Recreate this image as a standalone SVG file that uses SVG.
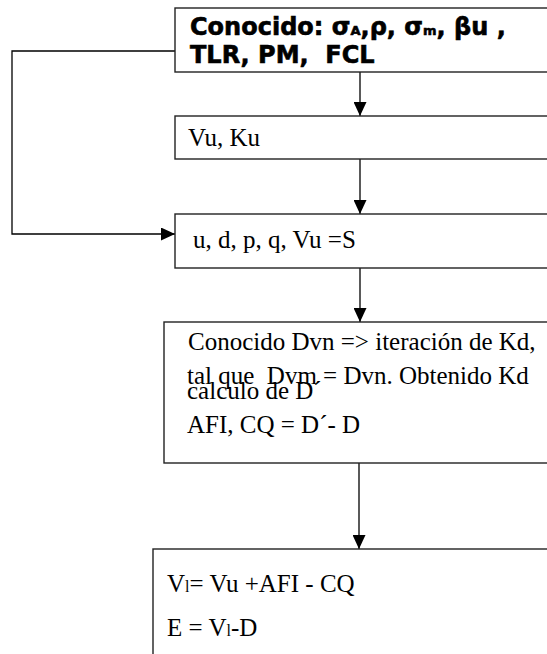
<svg xmlns="http://www.w3.org/2000/svg" width="547" height="654" viewBox="0 0 547 654">
<style>
.box{fill:#fff;stroke:#222;stroke-width:1.4}
.con{fill:none;stroke:#000;stroke-width:1.3}
.t{font-family:"Liberation Serif","Times New Roman",serif;font-size:25px;fill:#000}
.h{font-family:"DejaVu Sans","Liberation Sans",sans-serif;font-weight:bold;font-size:24px;fill:#000;stroke:#000;stroke-width:0.6}
</style>
<defs>
<marker id="arr" markerUnits="userSpaceOnUse" markerWidth="14" markerHeight="13" viewBox="0 0 14 13" refX="14" refY="6.5" orient="auto">
<path d="M0,0 L14,6.5 L0,13 z" fill="#000"/>
</marker>
</defs>
<g id="connectors">
<line class="con" x1="360" y1="72" x2="360" y2="116" marker-end="url(#arr)"/>
<line class="con" x1="360" y1="159" x2="360" y2="214" marker-end="url(#arr)"/>
<line class="con" x1="360" y1="268" x2="360" y2="322" marker-end="url(#arr)"/>
<line class="con" x1="359" y1="463" x2="359" y2="549" marker-end="url(#arr)"/>
<polyline class="con" points="175,51 12,51 12,234 175,234" marker-end="url(#arr)"/>
</g>
<g id="known">
<rect class="box" x="175" y="8" width="400" height="64"/>
<text class="h" x="190" y="35">Conocido: σ<tspan font-size="13">A</tspan>,ρ, σ<tspan font-size="13">m</tspan>, βu ,</text>
<text class="h" x="190" y="63" xml:space="preserve">TLR, PM,  FCL</text>
</g>
<g id="vuku">
<rect class="box" x="175" y="116" width="400" height="43"/>
<text class="t" x="188" y="146">Vu, Ku</text>
</g>
<g id="udpq">
<rect class="box" x="175" y="214" width="400" height="54"/>
<text class="t" x="193" y="248">u, d, p, q, Vu =S</text>
</g>
<g id="iteration">
<rect class="box" x="164" y="322" width="400" height="141"/>
<text class="t" x="188" y="350">Conocido Dvn =&gt; iteración de Kd,</text>
<text class="t" x="187" y="384" xml:space="preserve">tal que  Dvm = Dvn. Obtenido Kd</text>
<text class="t" x="187" y="399">calculo de D´</text>
<text class="t" x="187" y="433">AFI, CQ = D´- D</text>
</g>
<g id="result">
<rect class="box" x="153" y="549" width="420" height="120"/>
<text class="t" x="167" y="592">V<tspan font-size="16">l</tspan>= Vu +AFI - CQ</text>
<text class="t" x="167" y="636">E = V<tspan font-size="16">l</tspan>-D</text>
</g>
</svg>
